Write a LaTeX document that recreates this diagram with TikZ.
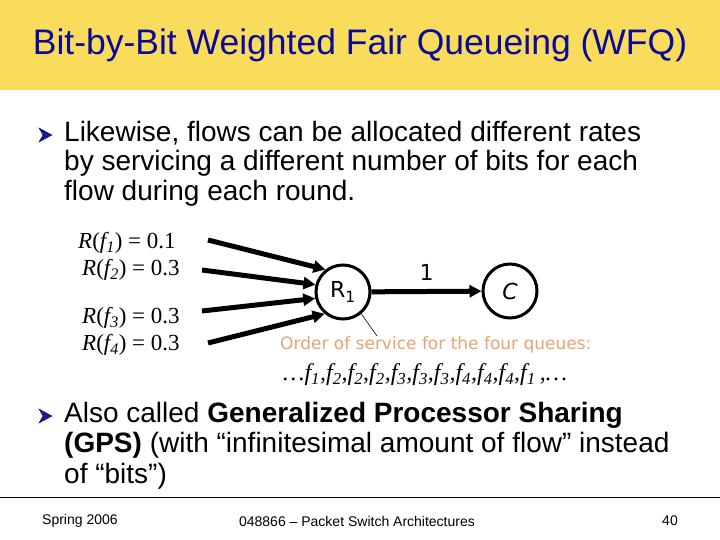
\documentclass[tikz,border=0pt]{standalone}
\usepackage{fontspec}
\setmainfont{Liberation Sans}
\newfontfamily\timesf{Liberation Serif}
\newfontfamily\comicf{DejaVu Sans}
\usetikzlibrary{arrows.meta}
\definecolor{titlebg}{HTML}{F9DC5C}
\definecolor{titleblue}{HTML}{0A0A96}
\definecolor{orangetxt}{HTML}{E8A274}
\definecolor{bulletblue}{HTML}{1A1A90}
\tikzset{
  body/.style={anchor=west,inner sep=0pt,font=\fontsize{28}{28}\selectfont},
  rate/.style={anchor=west,inner sep=0pt,font=\timesf\fontsize{23}{23}\selectfont},
  flow/.style={line width=5pt,-{Triangle[length=12pt,width=12pt]}},
  router/.style={circle,draw,line width=3pt,minimum size=54pt,inner sep=0pt,font=\comicf\fontsize{22}{22}\selectfont},
  foot/.style={inner sep=0pt,font=\fontsize{14}{14}\selectfont},
  bulletA/.style={fill=bulletblue,draw=bulletblue!60!black,line width=0.4pt}
}
\begin{document}
\begin{tikzpicture}[x=1pt,y=-1pt]
\useasboundingbox (0,0) rectangle (720,540);
\fill[white] (0,0) rectangle (720,540);
\fill[titlebg] (0,0) rectangle (720,90);
\node[inner sep=0pt,text=titleblue,font=\fontsize{35.5}{35.5}\selectfont] (title) at (360,45) {Bit-by-Bit Weighted Fair Queueing (WFQ)};
% bullet 1
\filldraw[bulletA] (39,128) -- (52,135) -- (39,142) -- (43,135) -- cycle;
\node[body] (l1) at (64,133) {Likewise, flows can be allocated different rates};
\node[body] (l2) at (64,163) {by servicing a different number of bits for each};
\node[body] (l3) at (64,193) {flow during each round.};
% rates
\node[rate] (r1) at (78,243) {\textit{R}(\textit{f\textsubscript{1}}) = 0.1};
\node[rate] (r2) at (82,270) {\textit{R}(\textit{f\textsubscript{2}}) = 0.3};
\node[rate] (r3) at (82,318) {\textit{R}(\textit{f\textsubscript{3}}) = 0.3};
\node[rate] (r4) at (82,345) {\textit{R}(\textit{f\textsubscript{4}}) = 0.3};
% routers
\node[router] (R1) at (343,292) {R\textsubscript{1}};
\node[router] (C) at (510,291) {\textit{C}};
\coordinate (s1) at (208,240);
\coordinate (s2) at (202,270);
\coordinate (s3) at (202,311);
\coordinate (s4) at (208,343);
\draw[flow] (s1) -- (R1.128);
\draw[flow] (s2) -- (R1.165);
\draw[flow] (s3) -- (R1.193);
\draw[flow] (s4) -- (R1.230);
\draw[flow] (R1) -- (C) node[midway,above=8pt,inner sep=0pt,font=\comicf\fontsize{22}{22}\selectfont] (one) {1};
% order of service
\node[anchor=west,inner sep=0pt,text=orangetxt,font=\comicf\fontsize{17}{17}\selectfont] (ord) at (280,345) {Order of service for the four queues:};
\coordinate (pt) at (377,336);
\draw[line width=0.6pt] (R1.-50) -- (pt);
\node[anchor=west,inner sep=0pt,font=\timesf\fontsize{24}{24}\selectfont\itshape] (seq) at (283,375) {\ldots f\textsubscript{1},f\textsubscript{2},f\textsubscript{2},f\textsubscript{2},f\textsubscript{3},f\textsubscript{3},f\textsubscript{3},f\textsubscript{4},f\textsubscript{4},f\textsubscript{4},f\textsubscript{1}\,,\ldots};
% bullet 2
\filldraw[bulletA] (39,409) -- (52,416) -- (39,423) -- (43,416) -- cycle;
\node[body] (m1) at (64,415) {Also called \textbf{Generalized Processor Sharing}};
\node[body] (m2) at (64,445) {\textbf{(GPS)} (with “infinitesimal amount of flow” instead};
\node[body] (m3) at (64,476) {of “bits”)};
% footer
\draw[line width=0.8pt] (0,497) -- (720,497);
\node[foot,anchor=west] (f1) at (42,521) {Spring 2006};
\node[foot] (f2) at (357,521) {048866 – Packet Switch Architectures};
\node[foot] (f3) at (670,521) {40};
\end{tikzpicture}
\end{document}
